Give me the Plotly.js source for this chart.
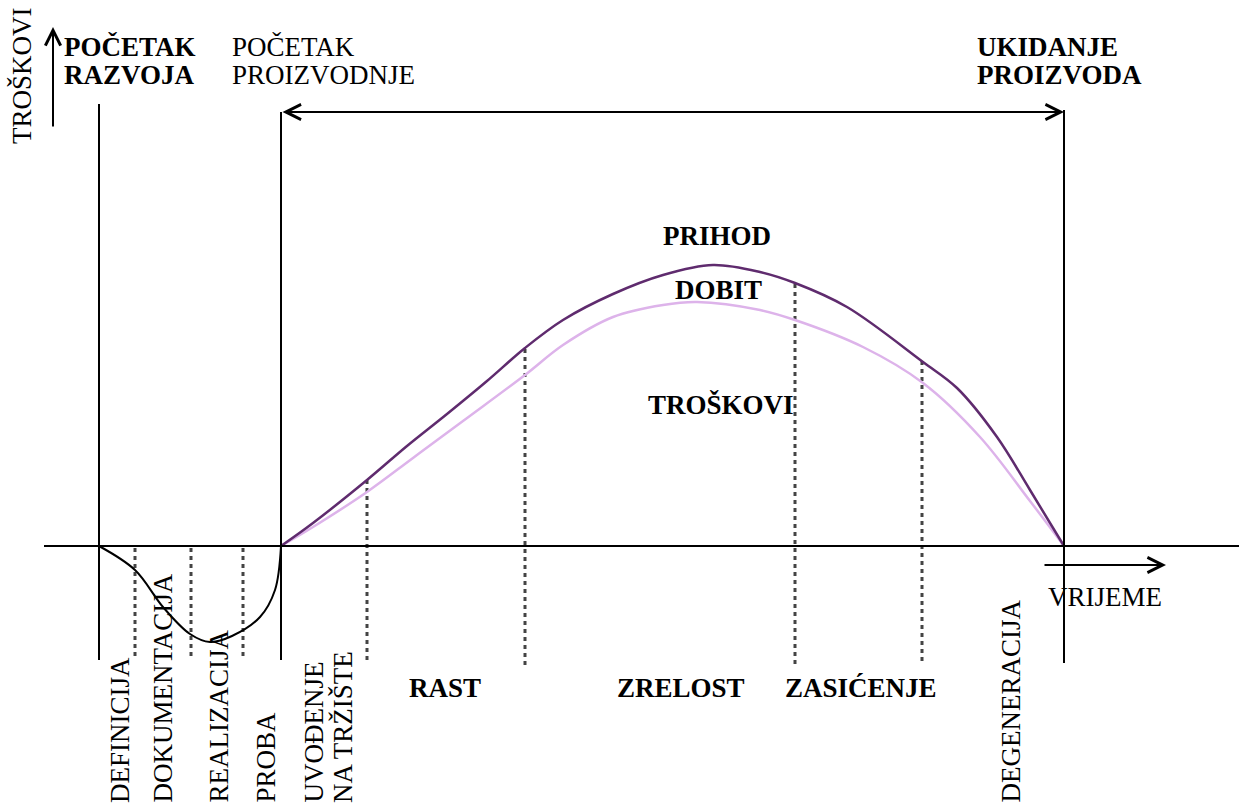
<!DOCTYPE html>
<html>
<head>
<meta charset="utf-8">
<script src="https://cdn.plot.ly/plotly-3.0.1.min.js"></script>
<style>html,body{margin:0;padding:0;background:#fff;}#chart{width:1239px;height:806px;}</style>
</head>
<body>
<div id="chart"></div>
<script>
// Baseline (zero) sits at value 0; time runs left to right.
const prihodT = [281, 313, 367, 407, 447, 487, 525, 563, 613, 663, 713, 760, 795, 847, 923, 957, 997, 1030, 1064];
const prihodV = [0, 23, 66, 100, 132, 165, 198, 226, 252, 271, 281, 274, 263, 239, 184, 158, 109, 56, 0];

const dobitT = [281, 313, 367, 413, 463, 525, 563, 613, 663, 697, 760, 795, 863, 923, 980, 1030, 1064];
const dobitV = [0, 19, 54, 88, 125, 171, 201, 229, 241, 244, 236, 226, 199, 163, 109, 45, 0];

const razvojT = [99, 135, 163, 190, 210, 232, 260, 275, 281];
const razvojV = [0, -24, -61, -88, -96, -90, -71, -44, 0];

const phaseLabels = ["DEFINICIJA", "DOKUMENTACIJA", "REALIZACIJA", "PROBA", "UVOĐENJE", "NA TRŽIŠTE", "DEGENERACIJA"];
const marketLabels = ["RAST", "ZRELOST", "ZASIĆENJE"];
const curveLabels = ["PRIHOD", "DOBIT", "TROŠKOVI"];

const FONT = "Liberation Serif, Times New Roman, serif";
const BASE = 546; // pixel row of baseline
const v = py => BASE - py;

const traces = [
  {x: razvojT, y: razvojV, mode: "lines", line: {color: "#000", width: 2, shape: "spline", smoothing: 1}, hoverinfo: "skip"},
  {x: dobitT, y: dobitV, mode: "lines", line: {color: "#ddb3ea", width: 2.5, shape: "spline", smoothing: 1}, hoverinfo: "skip"},
  {x: prihodT, y: prihodV, mode: "lines", line: {color: "#5f2b6e", width: 2.5, shape: "spline", smoothing: 1}, hoverinfo: "skip"}
];

const shapes = [];
function ln(x0, py0, x1, py1, opts) {
  shapes.push(Object.assign({type: "line", xref: "x", yref: "y", x0: x0, y0: v(py0), x1: x1, y1: v(py1),
    line: {color: "#000", width: 2}}, opts || {}));
}
ln(44, BASE, 1239, BASE);
ln(99, 104, 99, 660);
ln(281, 112, 281, 660);
ln(1064, 110, 1064, 663);
const dotted = {line: {color: "#444", width: 3, dash: "4px,4px"}, layer: "below"};
ln(135, 548, 135, 660, dotted);
ln(191, 548, 191, 660, dotted);
ln(243, 548, 243, 660, dotted);
ln(367, 480, 367, 660, dotted);
ln(525, 349, 525, 665, dotted);
ln(795, 284, 795, 665, dotted);
ln(922, 361, 922, 665, dotted);

const ann = [];
function txt(text, x, py, o) {
  ann.push(Object.assign({x: x, y: v(py), xref: "x", yref: "y", text: text, showarrow: false,
    font: {family: FONT, size: 27, color: "#000"}, xanchor: "center", yanchor: "middle"}, o || {}));
}
function arrow(x0, py0, x1, py1, both) {
  ann.push({x: x1, y: v(py1), ax: x0, ay: v(py0), xref: "x", yref: "y", axref: "x", ayref: "y",
    text: "", showarrow: true, arrowhead: 5, startarrowhead: 5, arrowside: both ? "end+start" : "end",
    arrowsize: 1.5, arrowwidth: 2, arrowcolor: "#000"});
}
arrow(281, 112, 1064, 112, true);
arrow(53, 128, 53, 27, false);
arrow(1043, 565, 1166, 565, false);

// top labels
txt("<b>POČETAK</b>", 62, 47, {xanchor: "left"});
txt("<b>RAZVOJA</b>", 62, 75, {xanchor: "left"});
txt("POČETAK", 230, 47, {xanchor: "left"});
txt("PROIZVODNJE", 230, 75, {xanchor: "left"});
txt("<b>UKIDANJE</b>", 975, 47, {xanchor: "left"});
txt("<b>PROIZVODA</b>", 975, 75, {xanchor: "left"});
txt("TROŠKOVI", 22, 76, {textangle: -90});
txt("VRIJEME", 1105, 597);

// curve labels
txt("<b>" + curveLabels[0] + "</b>", 717, 236);
txt("<b>" + curveLabels[1] + "</b>", 718, 290);
txt("<b>" + curveLabels[2] + "</b>", 721, 405);

// market phases
txt("<b>" + marketLabels[0] + "</b>", 445, 688);
txt("<b>" + marketLabels[1] + "</b>", 681, 688);
txt("<b>" + marketLabels[2] + "</b>", 861, 688);

// rotated phase labels
const rotX = [120, 162, 218, 265, 313, 343, 1010];
phaseLabels.forEach((s, i) => txt(s, rotX[i], 805, {textangle: -90, yanchor: "bottom"}));

const layout = {
  width: 1239, height: 806,
  margin: {l: 0, r: 0, t: 0, b: 0},
  paper_bgcolor: "#fff", plot_bgcolor: "#fff",
  showlegend: false,
  xaxis: {range: [0, 1239], visible: false, fixedrange: true},
  yaxis: {range: [BASE - 806, BASE], visible: false, fixedrange: true},
  shapes: shapes,
  annotations: ann
};
Plotly.newPlot("chart", traces, layout, {displayModeBar: false, staticPlot: true});
</script>
</body>
</html>
